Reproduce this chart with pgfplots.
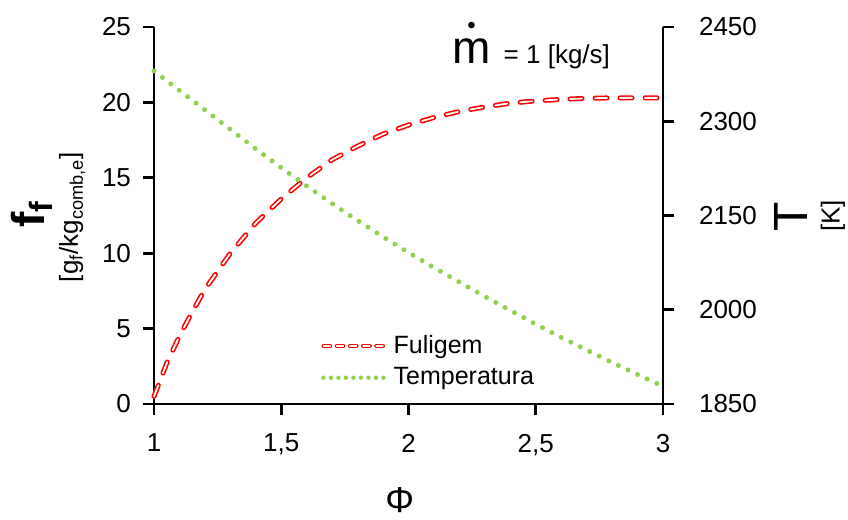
\documentclass[border=0pt]{standalone}
\usepackage{fontspec}
\setmainfont{Liberation Sans}
\usepackage{pgfplots}
\pgfplotsset{compat=1.18}
\usetikzlibrary{calc}
\definecolor{fulred}{HTML}{FF0000}
\definecolor{tgreen}{HTML}{92D050}

\tikzset{
  fulouter/.style={fulred, line width=2.5pt, line cap=round, dash pattern=on 6pt off 6.5pt},
  fulinner/.style={white, line width=0.9pt, line cap=round, dash pattern=on 6pt off 6.5pt},
  tempdots/.style={tgreen, line width=2.5pt, line cap=round, dash pattern=on 0pt off 5.3pt},
}

\pgfplotsset{common/.style={
  scale only axis, width=254.5pt, height=188.5pt,
  xmin=1, xmax=3, clip=false,
  tick align=outside, major tick length=5.5pt,
  tick style={black, line width=1.4pt},
  axis line style={black, line width=1.4pt, -},
  ticklabel style={font=\fontsize{13}{15}\selectfont},
  /pgf/number format/assume math mode=true,
  /pgf/number format/use comma,
  /pgf/number format/1000 sep={},
}}

\begin{document}
\begin{tikzpicture}
% fuligem, left axis
\begin{axis}[common,
  axis x line*=bottom, axis y line*=left,
  ymin=0, ymax=25, ytick={0,5,...,25},
  xtick={1,1.5,2,2.5,3},
  xticklabel style={yshift=-6pt},
  yticklabel style={xshift=-2.5pt},
  xlabel={Φ},
  xlabel style={at={(axis description cs:0.483,-0.2546)}, anchor=center, font=\fontsize{18}{20}\selectfont},
  ylabel={\textbf{f\textsubscript{f}}},
  ylabel style={at={(axis description cs:-0.2397,0.504)}, anchor=center, font=\fontsize{23}{25}\selectfont},
]
\coordinate (O) at (rel axis cs:0,0);
\addplot[fulouter] coordinates {
  (1.00,0.5) (1.05,2.7) (1.10,4.5) (1.15,6.1) (1.20,7.6) (1.30,10.0)
  (1.40,12.0) (1.50,13.6) (1.60,15.0) (1.70,16.2) (1.80,17.1) (1.90,17.9)
  (2.00,18.5) (2.10,19.0) (2.20,19.4) (2.30,19.7) (2.40,19.95) (2.50,20.1)
  (2.60,20.2) (2.70,20.27) (2.80,20.3) (2.90,20.3) (3.00,20.3)
};
\addplot[fulinner] coordinates {
  (1.00,0.5) (1.05,2.7) (1.10,4.5) (1.15,6.1) (1.20,7.6) (1.30,10.0)
  (1.40,12.0) (1.50,13.6) (1.60,15.0) (1.70,16.2) (1.80,17.1) (1.90,17.9)
  (2.00,18.5) (2.10,19.0) (2.20,19.4) (2.30,19.7) (2.40,19.95) (2.50,20.1)
  (2.60,20.2) (2.70,20.27) (2.80,20.3) (2.90,20.3) (3.00,20.3)
};
\node[rotate=90, anchor=center, inner sep=0pt, font=\fontsize{13}{15}\selectfont]
  at (axis description cs:-0.161,0.496) {[g\textsubscript{f}/kg\textsubscript{comb,e}]};
\end{axis}

% temperatura, right axis
\begin{axis}[common,
  axis x line=none, axis y line*=right,
  ymin=1850, ymax=2450, ytick={1850,2000,...,2450},
  yticklabel style={xshift=9pt},
  ylabel={T},
  ylabel style={at={(axis description cs:1.2515,0.496)}, anchor=center, inner sep=0pt, font=\fontsize{24}{26}\selectfont},
  legend style={at={(axis description cs:0.316,0.204)}, anchor=north west, draw=none, fill=none,
    font=\fontsize{12.5}{14}\selectfont, row sep=1.5pt},
  legend cell align=left,
]
\addlegendimage{legend image code/.code={
  \draw[fulred, line width=2pt, line cap=round, dash pattern=on 3.4pt off 3.2pt] (0pt,0pt) -- (32pt,0pt);
  \draw[white, line width=0.7pt, line cap=round, dash pattern=on 3.4pt off 3.2pt] (0pt,0pt) -- (32pt,0pt);}}
\addlegendentry{Fuligem}
\addplot[tempdots, forget plot] coordinates {
  (1.0,2380) (1.1,2349) (1.2,2318) (1.3,2287) (1.4,2256) (1.5,2226)
  (1.6,2197) (1.7,2169) (1.8,2142) (1.9,2116) (2.0,2091) (2.1,2067)
  (2.2,2044) (2.3,2021) (2.4,1999) (2.5,1977) (2.6,1956) (2.7,1936)
  (2.8,1916) (2.9,1897) (3.0,1878)
};
\addlegendimage{legend image code/.code={
  \draw[tgreen, line width=2.2pt, line cap=round, dash pattern=on 0pt off 3.75pt] (0pt,0pt) -- (32pt,0pt);}}
\addlegendentry{Temperatura}
\node[rotate=90, anchor=center, inner sep=0pt, font=\fontsize{13}{15}\selectfont]
  at (axis description cs:1.334,0.499) {[K]};
\node[anchor=base west, inner sep=0pt] at (axis description cs:0.5855,0.9045)
  {\fontsize{23}{25}\selectfont\makebox[0pt][l]{\hspace{7.5pt}\raisebox{15pt}{\fontsize{12}{12}\selectfont\textbullet}}m%
   \fontsize{13}{15}\selectfont\hspace{6.5pt}= 1 [kg/s]};
\end{axis}
\path ($(O)+(-77pt,-55.5pt)$) rectangle ++(424pt,257.5pt);
\end{tikzpicture}
\end{document}
